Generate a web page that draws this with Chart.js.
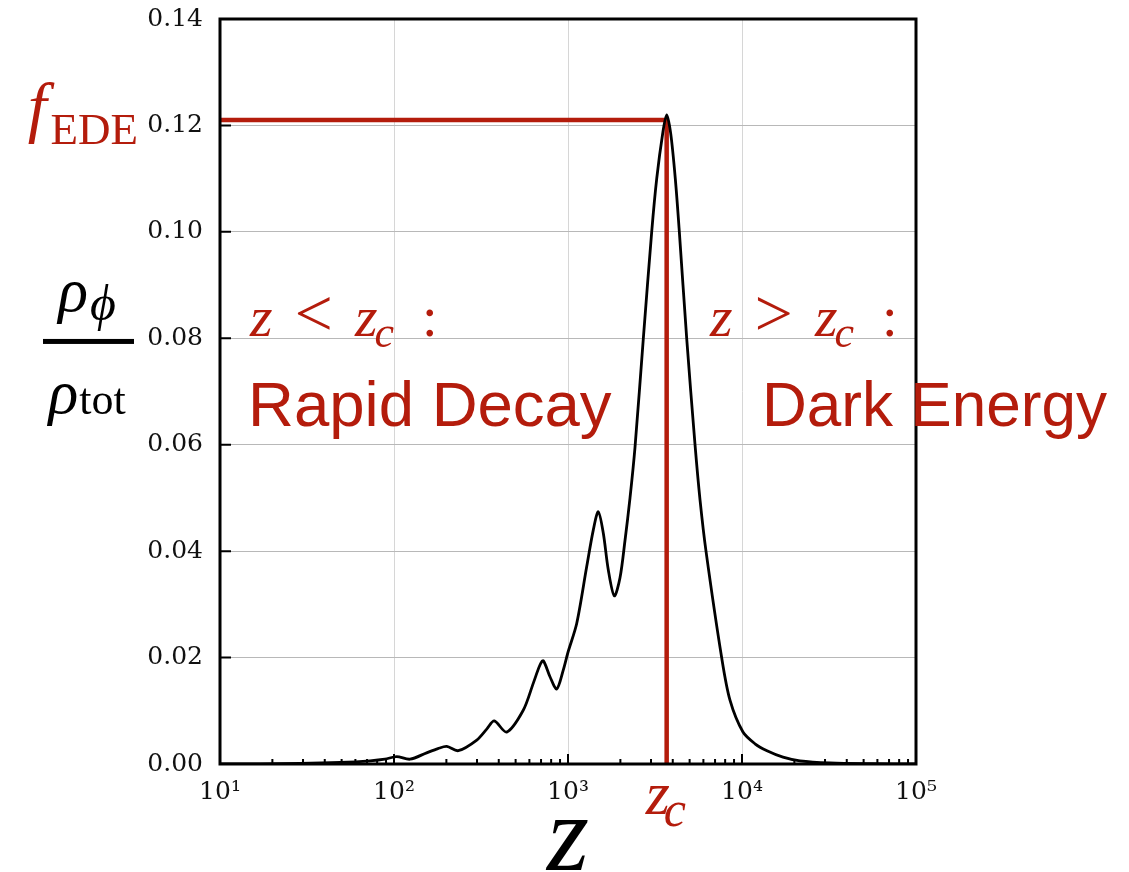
<!DOCTYPE html>
<html>
<head>
<meta charset="utf-8">
<title>Early dark energy fraction</title>
<script src="https://cdn.jsdelivr.net/npm/chart.js@4.4.1/dist/chart.umd.min.js"></script>
<style>
  html, body { margin: 0; padding: 0; background: #fff; }
  #wrap { width: 1129px; height: 872px; }
</style>
</head>
<body>
<div id="wrap"><canvas id="edeChart" width="1129" height="872"></canvas></div>
<script>
// ---------------------- DATA -------------------------
const redshift = [10, 17, 28.8, 48.9, 72.8, 88.7, 103.6, 123.6, 154, 179, 201, 234, 299, 342, 377, 444, 553,
      632, 690, 721, 788, 861, 940, 1000, 1122, 1281, 1398, 1493, 1595, 1704, 1845, 1990, 2126, 2272, 2427,
      2710, 3027, 3235, 3501, 3690, 3892, 4137, 4364, 4810, 5370, 5740, 6210, 7640, 8530, 10130, 11880,
      13920, 17200, 21540, 32040, 54400, 100000];
const rhoFraction = [0.0000, 0.00003, 0.0001, 0.0003, 0.0006, 0.0009, 0.0014, 0.0009, 0.0021, 0.0029, 0.0033,
      0.0025, 0.0045, 0.0066, 0.0081, 0.0060, 0.0101, 0.0152, 0.0186, 0.0194, 0.0164, 0.0141, 0.0177, 0.0210,
      0.0264, 0.0371, 0.0440, 0.0474, 0.0434, 0.0365, 0.0316, 0.0350, 0.0420, 0.0500, 0.0595, 0.0800, 0.1000,
      0.1100, 0.1185, 0.1220, 0.1185, 0.1100, 0.1000, 0.0800, 0.0600, 0.0496, 0.0400, 0.0200, 0.0120, 0.0060,
      0.0038, 0.0025, 0.0013, 0.0006, 0.0002, 0.00005, 0.0000];

const fEDE = 0.121;   // height of the peak marker
const zc = 3690;      // critical redshift

const xTicks = [10, 100, 1000, 10000, 100000];
const xTickLabels = ['10¹', '10²', '10³', '10⁴', '10⁵'];
const yTicks = [0, 0.02, 0.04, 0.06, 0.08, 0.10, 0.12, 0.14];

const RED = '#b41c0c';
const SERIF = '"Liberation Serif", "DejaVu Serif", serif';
const SANS = '"Liberation Sans", Arial, sans-serif';

// minor tick positions on the log axis (2..9 in every decade)
const minorX = [];
for (let d = 10; d < 100000; d *= 10) {
      for (let k = 2; k <= 9; k++) minorX.push(d * k);
}

// ---------------------- HELPERS -------------------------
// draws a row of text runs [text, font, dy, gapAfter] starting at x (or ending at / centred on x)
function drawRuns(ctx, runs, x, y, align = 'left') {
      let w = 0;
      runs.forEach(r => { ctx.font = r[1]; w += ctx.measureText(r[0]).width + (r[3] || 0); });
      let cx = align === 'right' ? x - w : align === 'center' ? x - w / 2 : x;
      runs.forEach(r => {
            ctx.font = r[1];
            ctx.fillText(r[0], cx, y + (r[2] || 0));
            cx += ctx.measureText(r[0]).width + (r[3] || 0);
      });
}

function mathCondition(sign) {
      return [
            ['z', 'italic 58px ' + SERIF, 0, 22],
            [sign, '68px ' + SERIF, 0, 22],
            ['z', 'italic 58px ' + SERIF, 0, -3],
            ['c', 'italic 44px ' + SERIF, 11, 28],
            [':', '56px ' + SERIF]
      ];
}

const framePlugin = {
      id: 'frame',
      afterDatasetsDraw(chart) {
            const { ctx, chartArea: a, scales: { x, y } } = chart;
            ctx.save();
            ctx.strokeStyle = '#000';
            ctx.lineWidth = 3;
            ctx.strokeRect(a.left, a.top, a.right - a.left, a.bottom - a.top);

            // inward tick marks
            ctx.lineWidth = 2;
            ctx.beginPath();
            xTicks.forEach(v => {
                  const p = x.getPixelForValue(v);
                  ctx.moveTo(p, a.bottom); ctx.lineTo(p, a.bottom - 10);
            });
            minorX.forEach(v => {
                  const p = x.getPixelForValue(v);
                  ctx.moveTo(p, a.bottom); ctx.lineTo(p, a.bottom - 5);
            });
            yTicks.forEach(v => {
                  const p = y.getPixelForValue(v);
                  ctx.moveTo(a.left, p); ctx.lineTo(a.left + 11, p);
            });
            ctx.stroke();
            ctx.restore();
      },
      afterDraw(chart) {
            const { ctx, chartArea: a, scales: { x, y } } = chart;
            ctx.save();
            ctx.textBaseline = 'alphabetic';

            // y axis title: rho_phi / rho_tot
            ctx.fillStyle = '#000';
            const barY = y.getPixelForValue(0.0795);
            drawRuns(ctx, [['ρ', 'italic 62px ' + SERIF, 0, 2], ['ϕ', 'italic 50px ' + SERIF, 9]], 87, barY - 30, 'center');
            ctx.fillRect(43, barY - 2, 91, 5);
            drawRuns(ctx, [['ρ', 'italic 62px ' + SERIF, 0, 1], ['tot', '44px ' + SERIF, 1]], 87, barY + 72, 'center');

            // x axis title
            ctx.font = 'italic 108px ' + SERIF;
            ctx.textAlign = 'center';
            ctx.fillText('z', (a.left + a.right) / 2, 870);
            ctx.textAlign = 'left';

            // red annotations
            ctx.fillStyle = RED;
            const fy = y.getPixelForValue(fEDE);
            drawRuns(ctx, [['f', 'italic 68px ' + SERIF, 0, 4], ['EDE', '45px ' + SERIF, 14]], a.left - 82, fy + 10, 'right');

            const zx = x.getPixelForValue(zc);
            drawRuns(ctx, [['z', 'italic 62px ' + SERIF, 0, -6], ['c', 'italic 50px ' + SERIF, 12]], zx - 21, a.bottom + 50);

            const mathY = y.getPixelForValue(0.0805);
            drawRuns(ctx, mathCondition('<'), x.getPixelForValue(14.87), mathY);
            drawRuns(ctx, mathCondition('>'), x.getPixelForValue(6547), mathY);

            const wordY = y.getPixelForValue(0.0636);
            ctx.font = '63.5px ' + SANS;
            ctx.fillText('Rapid Decay', x.getPixelForValue(14.5), wordY, 364);
            ctx.fillText('Dark Energy', x.getPixelForValue(13030), wordY, 345);
            ctx.restore();
      }
};

// ---------------------- CHART -------------------------
const ctx = document.getElementById('edeChart').getContext('2d');

const edeChart = new Chart(ctx, {
      type: 'line',
      data: {
            datasets: [
            {
                  label: 'rho_phi / rho_tot',
                  data: redshift.map((z, i) => ({ x: z, y: rhoFraction[i] })),
                  borderColor: '#000',
                  borderWidth: 2.8,
                  fill: false,
                  tension: 0.3,
                  pointRadius: 0,
            },
            {
                  label: 'f_EDE marker',
                  data: [{ x: 10, y: fEDE }, { x: zc, y: fEDE }, { x: zc, y: 0 }],
                  borderColor: RED,
                  borderWidth: 4.5,
                  fill: false,
                  tension: 0,
                  pointRadius: 0,
            }
            ]
      },
      options: {
            responsive: false,
            animation: false,
            layout: { padding: { left: 0, top: 19, right: 213, bottom: 0 } },
            plugins: {
                  legend: { display: false },
                  tooltip: { enabled: false }
            },
            scales: {
                  x: {
                        type: 'logarithmic',
                        min: 10,
                        max: 100000,
                        afterBuildTicks: scale => { scale.ticks = xTicks.map(v => ({ value: v })); },
                        afterFit: scale => {
                              scale.height = 108;
                              scale.paddingLeft = 0;
                              scale.paddingRight = 0;
                        },
                        ticks: {
                              autoSkip: false,
                              maxRotation: 0,
                              padding: 13,
                              color: '#111',
                              font: { family: '"DejaVu Serif", serif', size: 25 },
                              callback: (v) => xTickLabels[xTicks.indexOf(v)] ?? ''
                        },
                        grid: { color: '#d6d6d6', lineWidth: 1, drawTicks: false },
                        border: { display: false }
                  },
                  y: {
                        min: 0,
                        max: 0.14,
                        afterBuildTicks: scale => { scale.ticks = yTicks.map(v => ({ value: v })); },
                        afterFit: scale => {
                              scale.width = 220;
                              scale.paddingTop = 0;
                              scale.paddingBottom = 0;
                        },
                        ticks: {
                              padding: 17,
                              color: '#111',
                              font: { family: '"DejaVu Serif", serif', size: 25 },
                              callback: (v) => v.toFixed(2)
                        },
                        grid: { color: '#b8b8b8', lineWidth: 1, drawTicks: false },
                        border: { display: false }
                  }
            }
      },
      plugins: [framePlugin]
});
</script>
</body>
</html>
